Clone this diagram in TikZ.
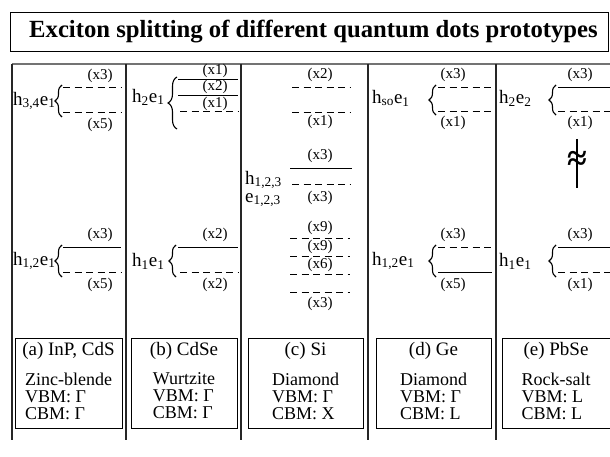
\documentclass[tikz,border=0pt]{standalone}
\usepackage{fontspec}
\setmainfont{Liberation Serif}
\usetikzlibrary{decorations.pathreplacing}
\begin{document}
\begin{tikzpicture}[x=1pt,y=-1pt,
  lvl/.style={line width=1pt},
  dlvl/.style={line width=1pt, dash pattern=on 7pt off 4.5pt},
  lab/.style={font=\fontsize{15}{15}\selectfont, inner sep=0pt},
  hl/.style={font=\fontsize{19}{19}\selectfont, anchor=west, inner sep=0pt},
  br/.style={decorate, decoration={brace, amplitude=7pt}, line width=1.1pt},
  colline/.style={line width=1.3pt, black!85},
  bbox/.style={draw, line width=1pt},
  btitle/.style={font=\fontsize{19}{19}\selectfont, inner sep=0pt},
  btxt/.style={font=\fontsize{18}{17}\selectfont, align=left, inner sep=0pt}]
\useasboundingbox (0,0) rectangle (610,457);
% title
\draw[line width=0.9pt] (10,12) rectangle (608,51);
\node[anchor=west, inner sep=0pt, font=\fontsize{24.7}{24.7}\selectfont\bfseries] (title) at (29,32) {Exciton splitting of different quantum dots prototypes};
% table frame
\draw[line width=1.4pt, black!55] (12,64) -- (612,64);
\foreach \x in {12,126,241,368,496} \draw[colline] (\x,64) -- (\x,440);

% ---------- column a ----------
\node[hl] (ha1) at (13,101) {h\textsubscript{3,4}e\textsubscript{1}};
\draw[br] (62,117) -- (62,85);
\draw[dlvl] (63,88) -- (121,88);
\draw[dlvl] (63,113) -- (121,113);
\node[lab] (la1) at (100,76) {(x3)};
\node[lab] (la2) at (100,125) {(x5)};
\node[hl] (ha2) at (13,261) {h\textsubscript{1,2}e\textsubscript{1}};
\draw[br] (62,277) -- (62,245);
\draw[lvl] (63,247) -- (121,247);
\draw[dlvl] (63,272) -- (121,272);
\node[lab] (la3) at (100,235) {(x3)};
\node[lab] (la4) at (100,285) {(x5)};

% ---------- column b ----------
\node[hl] (hb1) at (132,97) {h\textsubscript{2}e\textsubscript{1}};
\draw[br, decoration={brace, amplitude=9pt}] (177,129) -- (177,77);
\draw[lvl] (178,80) -- (238,80);
\draw[lvl] (178,96) -- (238,96);
\draw[dlvl] (180,112) -- (238,112);
\node[lab] (lb1) at (215,70.5) {(x1)};
\node[lab] (lb2) at (215,87) {(x2)};
\node[lab] (lb3) at (215,103.5) {(x1)};
\node[hl] (hb2) at (132,261) {h\textsubscript{1}e\textsubscript{1}};
\draw[br] (176,277) -- (176,245);
\draw[lvl] (178,247) -- (238,247);
\draw[dlvl] (180,272) -- (238,272);
\node[lab] (lb4) at (215,235) {(x2)};
\node[lab] (lb5) at (215,285) {(x2)};

% ---------- column c ----------
\draw[dlvl] (292,88) -- (350,88);
\node[lab] (lc1) at (320,75) {(x2)};
\draw[dlvl] (292,113) -- (350,113);
\node[lab] (lc2) at (320,122) {(x1)};
\draw[lvl] (290,169) -- (352,169);
\node[lab] (lc3) at (320,156) {(x3)};
\node[hl, align=left, font=\fontsize{19}{18}\selectfont] (hc) at (245,189) {h\textsubscript{1,2,3}\\e\textsubscript{1,2,3}};
\draw[dlvl] (292,185) -- (350,185);
\node[lab] (lc4) at (320,198) {(x3)};
\node[lab] (lc5) at (320,228) {(x9)};
\draw[dlvl] (290,238) -- (350,238);
\node[lab] (lc6) at (320,247) {(x9)};
\draw[dlvl] (290,256) -- (350,256);
\node[lab] (lc7) at (320,265) {(x6)};
\draw[dlvl] (290,274) -- (350,274);
\draw[dlvl] (290,292) -- (350,292);
\node[lab] (lc8) at (320,304) {(x3)};

% ---------- column d ----------
\node[hl] (hd1) at (372,98) {h\textsubscript{so}e\textsubscript{1}};
\draw[br] (436,115) -- (436,85);
\draw[dlvl] (438,88) -- (492,88);
\draw[dlvl] (438,112) -- (492,112);
\node[lab] (ld1) at (453,75) {(x3)};
\node[lab] (ld2) at (453,123) {(x1)};
\node[hl] (hd2) at (372,261) {h\textsubscript{1,2}e\textsubscript{1}};
\draw[br] (436,277) -- (436,245);
\draw[dlvl] (438,247) -- (492,247);
\draw[lvl] (438,272) -- (492,272);
\node[lab] (ld3) at (453,235) {(x3)};
\node[lab] (ld4) at (453,285) {(x5)};

% ---------- column e ----------
\node[hl] (he1) at (499,98) {h\textsubscript{2}e\textsubscript{2}};
\draw[br] (556,115) -- (556,85);
\draw[lvl] (558,88) -- (612,88);
\draw[dlvl] (558,112) -- (612,112);
\node[lab] (le1) at (580,75) {(x3)};
\node[lab] (le2) at (580,123) {(x1)};
\coordinate (gapt) at (577,139);
\coordinate (gapb) at (577,188);
\draw[line width=1.3pt] (gapt) -- (gapb);
\node[inner sep=0pt, font=\fontsize{36}{36}\selectfont\bfseries] (apx) at (577,161) {≈};
\node[hl] (he2) at (499,261) {h\textsubscript{1}e\textsubscript{1}};
\draw[br] (556,277) -- (556,245);
\draw[lvl] (558,247) -- (612,247);
\draw[dlvl] (558,272) -- (612,272);
\node[lab] (le3) at (580,235) {(x3)};
\node[lab] (le4) at (580,285) {(x1)};

% ---------- bottom boxes ----------
\draw[bbox] (15,338) rectangle (122,428);
\node[btitle] (ta) at (68.5,351) {(a) InP, CdS};
\node[btxt] (ba) at (68.5,396) {Zinc-blende\\VBM: Γ\\CBM: Γ};
\draw[bbox] (131,338) rectangle (237,428);
\node[btitle] (tb) at (184,351) {(b) CdSe};
\node[btxt] (bb) at (184,396) {Wurtzite\\VBM: Γ\\CBM: Γ};
\draw[bbox] (248,338) rectangle (363,428);
\node[btitle] (tc) at (305.5,351) {(c) Si};
\node[btxt] (bc) at (305.5,396) {Diamond\\VBM: Γ\\CBM: X};
\draw[bbox] (376,338) rectangle (491,428);
\node[btitle] (td) at (433.5,351) {(d) Ge};
\node[btxt] (bd) at (433.5,396) {Diamond\\VBM: Γ\\CBM: L};
\draw[bbox] (502,338) rectangle (616,428);
\node[btitle] (te) at (556,351) {(e) PbSe};
\node[btxt] (be) at (556,396) {Rock-salt\\VBM: L\\CBM: L};
\end{tikzpicture}
\end{document}
